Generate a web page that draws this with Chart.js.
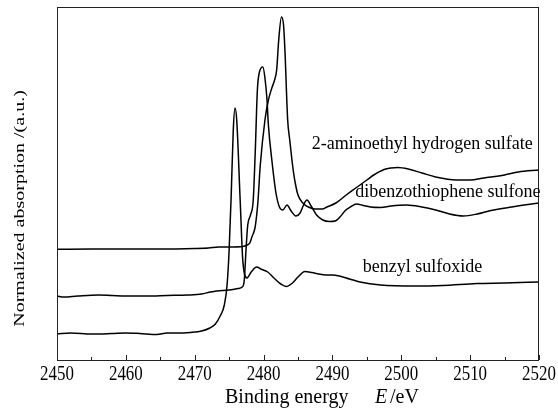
<!DOCTYPE html>
<html>
<head>
<meta charset="utf-8">
<script src="https://cdn.jsdelivr.net/npm/chart.js@4.4.1/dist/chart.umd.min.js"></script>
<style>
  html, body { margin: 0; padding: 0; background: #fff; }
  canvas { display: block; }
</style>
</head>
<body>
<canvas id="xanes" width="558" height="409"></canvas>
<script>
// S K-edge spectra (normalized absorption, a.u.)

const sulfateE = [2450, 2455, 2460, 2465, 2470, 2472, 2473.5, 2475, 2477, 2477.6, 2478.0, 2478.3,
  2478.75, 2479.0, 2479.2, 2479.5, 2480.2, 2480.7, 2481.2, 2481.6, 2481.9, 2482.2, 2482.6, 2482.9,
  2483.1, 2483.5, 2483.8, 2484.3, 2484.6, 2485.0, 2485.7, 2486.5, 2487.5, 2488.5, 2489.2, 2490.5,
  2491.1, 2492, 2493.6, 2495, 2496, 2497.5, 2498.5, 2499.5, 2501, 2503, 2505, 2508, 2510, 2512,
  2515, 2517, 2520];
const sulfateY = [1.107, 1.11, 1.11, 1.11, 1.115, 1.12, 1.13, 1.13, 1.135, 1.15, 1.17, 1.23,
  1.32, 1.45, 1.60, 1.93, 2.40, 2.60, 2.72, 2.80, 2.90, 3.20, 3.43, 3.35,
  3.10, 2.40, 2.20, 1.90, 1.77, 1.65, 1.57, 1.53, 1.51, 1.51, 1.53, 1.57,
  1.60, 1.65, 1.73, 1.80, 1.85, 1.905, 1.92, 1.925, 1.91, 1.87, 1.83, 1.80, 1.80, 1.82,
  1.85, 1.88, 1.90];

const sulfoneE = [2450, 2451, 2453, 2456, 2458, 2460, 2463, 2466, 2469, 2471, 2472.3, 2473.2,
  2475, 2476.3, 2476.9, 2477.2, 2477.45, 2477.7, 2478.1, 2478.5, 2478.8, 2479.1, 2479.4, 2479.9,
  2480.2, 2480.5, 2480.7, 2481.2, 2481.8, 2482.3, 2482.8, 2483.4, 2484.0, 2484.7, 2485.3, 2485.8,
  2486.3, 2486.9, 2487.7, 2488.6, 2489.6, 2490.4, 2491.1, 2491.8, 2492.6, 2493.5, 2494.5, 2495.5,
  2497, 2498.5, 2500.8, 2503, 2505, 2507, 2509, 2511, 2513, 2516, 2520];
const sulfoneY = [0.64, 0.63, 0.64, 0.65, 0.645, 0.64, 0.64, 0.645, 0.65, 0.66, 0.68, 0.69,
  0.70, 0.715, 0.73, 0.80, 1.10, 1.35, 1.45, 1.60, 2.10, 2.70, 2.88, 2.93,
  2.82, 2.60, 2.35, 2.00, 1.67, 1.53, 1.50, 1.55, 1.49, 1.44, 1.47, 1.55,
  1.60, 1.54, 1.45, 1.40, 1.385, 1.39, 1.43, 1.49, 1.53, 1.56, 1.545, 1.53,
  1.525, 1.54, 1.55, 1.53, 1.50, 1.46, 1.44, 1.46, 1.495, 1.53, 1.57];

const sulfoxideE = [2450, 2452, 2455, 2458, 2460, 2462, 2464.5, 2466, 2468, 2470, 2471, 2472.2,
  2473.0, 2473.7, 2474.3, 2474.7, 2475.0, 2475.3, 2475.6, 2475.85, 2476.1, 2476.6, 2477.0, 2477.6,
  2478.2, 2479.0, 2479.6, 2480.6, 2481.5, 2482.5, 2483.3, 2484.2, 2485.0, 2486.0, 2487.0, 2488,
  2489, 2490, 2491, 2492.5, 2494, 2497, 2502, 2506, 2511, 2515, 2520];
const sulfoxideY = [0.26, 0.27, 0.26, 0.265, 0.27, 0.265, 0.255, 0.27, 0.27, 0.28, 0.29, 0.32,
  0.36, 0.44, 0.55, 0.75, 1.10, 1.65, 2.30, 2.52, 2.40, 1.60, 0.98, 0.82,
  0.88, 0.93, 0.91, 0.88, 0.82, 0.76, 0.735, 0.77, 0.83, 0.885, 0.875, 0.86,
  0.85, 0.85, 0.84, 0.81, 0.78, 0.75, 0.74, 0.745, 0.765, 0.77, 0.78];

// curve labels: text, left edge (eV), baseline (a.u.)
const labelText = ['2-aminoethyl hydrogen sulfate', 'dibenzothiophene sulfone', 'benzyl sulfoxide'];
const labelE = [2487.0, 2493.3, 2494.4];
const labelY = [2.11, 1.63, 0.88];

const majorTicks = [2450, 2460, 2470, 2480, 2490, 2500, 2510, 2520];
const minorTicks = [2455, 2465, 2475, 2485, 2495, 2505, 2515];

const FONT = '"Liberation Serif", "Times New Roman", serif';

function pts(xs, ys) {
    return xs.map((x, i) => ({ x: x, y: ys[i] }));
}

function txt(ctx, s, x, y, size, o) {
    o = o || {};
    ctx.save();
    ctx.font = (o.italic ? 'italic ' : '') + size + 'px ' + FONT;
    ctx.fillStyle = '#000';
    ctx.translate(x, y);
    if (o.rot) ctx.rotate(o.rot);
    ctx.scale(o.sx || 1, o.sy || 1);
    ctx.textAlign = o.align || 'left';
    ctx.textBaseline = 'alphabetic';
    ctx.fillText(s, 0, 0);
    ctx.restore();
}

const framePlugin = {
    id: 'frame',
    afterDraw(chart) {
        const ctx = chart.ctx;
        const a = chart.chartArea;
        const xs = chart.scales.x;
        const ys = chart.scales.y;

        ctx.save();
        ctx.strokeStyle = '#222';
        ctx.lineWidth = 1;
        ctx.strokeRect(a.left + 0.5, a.top + 0.5, a.right - a.left - 1, a.bottom - a.top);

        // inward ticks
        ctx.beginPath();
        majorTicks.forEach(v => {
            const px = Math.round(xs.getPixelForValue(v)) + 0.5;
            ctx.moveTo(px, a.bottom);
            ctx.lineTo(px, a.bottom - 5);
        });
        minorTicks.forEach(v => {
            const px = Math.round(xs.getPixelForValue(v)) + 0.5;
            ctx.moveTo(px, a.bottom);
            ctx.lineTo(px, a.bottom - 3);
        });
        ctx.stroke();
        ctx.restore();

        majorTicks.forEach(v => {
            txt(ctx, String(v), xs.getPixelForValue(v), 380, 22, { sx: 0.77, align: 'center' });
        });

        // axis titles
        txt(ctx, 'Binding energy', 225, 403, 20);
        txt(ctx, 'E', 375, 403, 20, { italic: true });
        txt(ctx, '/eV', 390, 403, 20);
        txt(ctx, 'Normalized absorption /(a.u.)', 23.5, 208.5, 20,
            { rot: -Math.PI / 2, sy: 0.75, align: 'center' });

        // curve labels
        labelText.forEach((s, i) => {
            txt(ctx, s, xs.getPixelForValue(labelE[i]), ys.getPixelForValue(labelY[i]), 18);
        });
    }
};

const lineStyle = {
    borderColor: '#000',
    borderWidth: 1.5,
    pointRadius: 0,
    fill: false,
    cubicInterpolationMode: 'monotone'
};

new Chart(document.getElementById('xanes').getContext('2d'), {
    type: 'line',
    data: {
        datasets: [
            Object.assign({ label: labelText[0], data: pts(sulfateE, sulfateY) }, lineStyle),
            Object.assign({ label: labelText[1], data: pts(sulfoneE, sulfoneY) }, lineStyle),
            Object.assign({ label: labelText[2], data: pts(sulfoxideE, sulfoxideY) }, lineStyle)
        ]
    },
    options: {
        responsive: false,
        animation: false,
        layout: { padding: { left: 57, right: 19, top: 7, bottom: 0 } },
        plugins: {
            legend: { display: false },
            tooltip: { enabled: false }
        },
        scales: {
            x: {
                type: 'linear',
                min: 2450,
                max: 2520,
                grid: { display: false },
                border: { display: false },
                ticks: { display: false, stepSize: 10 },
                afterFit: function(scale) { scale.height = 49; }
            },
            y: {
                display: false,
                min: 0,
                max: 3.53
            }
        }
    },
    plugins: [framePlugin]
});
</script>
</body>
</html>
